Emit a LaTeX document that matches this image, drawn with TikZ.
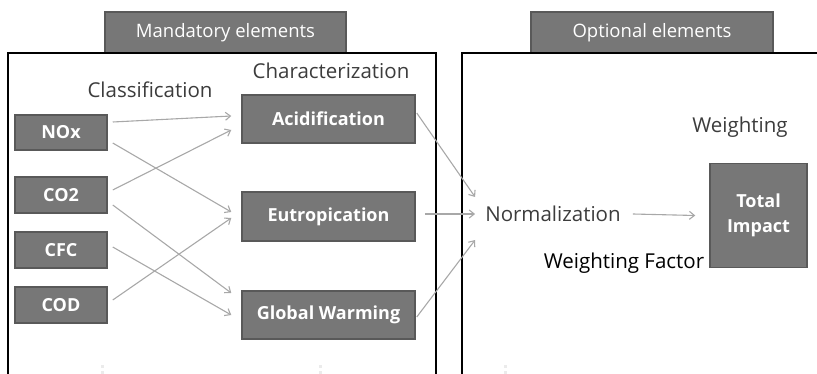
\documentclass[tikz,border=0pt]{standalone}
\usepackage{fontspec}
\setmainfont{Open Sans}
\usetikzlibrary{arrows.meta}
\definecolor{boxgray}{HTML}{777777}
\definecolor{boxline}{HTML}{595959}
\definecolor{arrowgray}{HTML}{A8A8A8}
\definecolor{labelgray}{HTML}{3C3C3C}
\tikzset{
  gbox/.style={draw=boxline,line width=1.5pt,fill=boxgray,text=white,
    font=\bfseries\fontsize{18}{20}\selectfont,inner sep=0pt},
  header/.style={draw=boxline,line width=1.2pt,fill=boxgray,text=white,
    font=\fontsize{18.5}{21}\selectfont,inner sep=0pt},
  label/.style={text=labelgray,font=\fontsize{20.5}{23}\selectfont,inner sep=2pt},
  link/.style={draw=arrowgray,line width=1.1pt,
    -{Straight Barb[length=5pt,width=8pt,line width=1.1pt]}}
}
\begin{document}
\begin{tikzpicture}[x=1pt,y=-1pt]
  \useasboundingbox (0,0) rectangle (817,374);
  % headers
  \node[header,minimum width=241pt,minimum height=41pt] (mand) at (225.5,32.5) {Mandatory elements};
  \node[header,minimum width=242pt,minimum height=41pt] (opt) at (652,32.5) {Optional elements};
  % frames, open at the bottom
  \draw[line width=2pt] (8,380) -- (8,53) -- (436,53) -- (436,380);
  \draw[line width=2pt] (462,380) -- (462,53) -- (825,53);
  % faint marks
  \foreach \xx in {102,320,505} {
    \fill[black!8] (\xx-1.5,364.5) rectangle (\xx+1.5,367.5);
    \fill[black!8] (\xx-1.5,370.5) rectangle (\xx+1.5,373.5);
  }
  % labels
  \node[label] (class) at (150,90) {Classification};
  \node[label] (char) at (331,71) {Characterization};
  \node[label] (weight) at (740,127) {Weighting};
  \node[label] (norm) at (553,214) {Normalization};
  \node[label,text=black] (wfac) at (624,263) {Weighting Factor};
  % substances
  \node[gbox,minimum width=92pt,minimum height=35pt] (nox) at (61,132.5) {NOx};
  \node[gbox,minimum width=92pt,minimum height=36pt] (co2) at (61,195) {CO2};
  \node[gbox,minimum width=92pt,minimum height=36pt] (cfc) at (61,250) {CFC};
  \node[gbox,minimum width=92pt,minimum height=36pt] (cod) at (61,305) {COD};
  % impact categories
  \node[gbox,minimum width=173pt,minimum height=48pt] (acid) at (328.5,119) {Acidification};
  \node[gbox,minimum width=173pt,minimum height=49pt] (eutro) at (328.5,216.5) {Eutropication};
  \node[gbox,minimum width=173pt,minimum height=48pt] (gw) at (328.5,315) {Global Warming};
  % result
  \node[gbox,minimum width=97pt,minimum height=104pt,align=center,
    font=\bfseries\fontsize{18}{25}\selectfont] (total) at (758.5,215.5) {Total\\Impact};
  % classification links
  \draw[link] ([xshift=5pt,yshift=10.5pt]nox.east) -- ([xshift=-10pt,yshift=3pt]acid.west);
  \draw[link] ([xshift=5pt,yshift=-10.5pt]nox.east) -- ([xshift=-10pt,yshift=4.5pt]eutro.west);
  \draw[link] ([xshift=5pt,yshift=5pt]co2.east) -- ([xshift=-10pt,yshift=-11pt]acid.west);
  \draw[link] ([xshift=5pt,yshift=-10pt]co2.east) -- ([xshift=-10pt,yshift=22pt]gw.west);
  \draw[link] ([xshift=5pt,yshift=3pt]cfc.east) -- ([xshift=-10pt]gw.west);
  \draw[link] ([xshift=5pt,yshift=5pt]cod.east) -- ([xshift=-10pt,yshift=-1.5pt]eutro.west);
  % to normalization
  \draw[link] ([xshift=1pt,yshift=6pt]acid.east) -- ([xshift=-8pt,yshift=17pt]norm.west);
  \draw[link] ([xshift=9pt,yshift=2.5pt]eutro.east) -- ([xshift=-8pt]norm.west);
  \draw[link] ([xshift=1pt,yshift=-2pt]gw.east) -- ([xshift=-8pt,yshift=-26pt]norm.west);
  \draw[link] ([xshift=10pt]norm.east) -- ([xshift=-14pt]total.west);
\end{tikzpicture}
\end{document}
